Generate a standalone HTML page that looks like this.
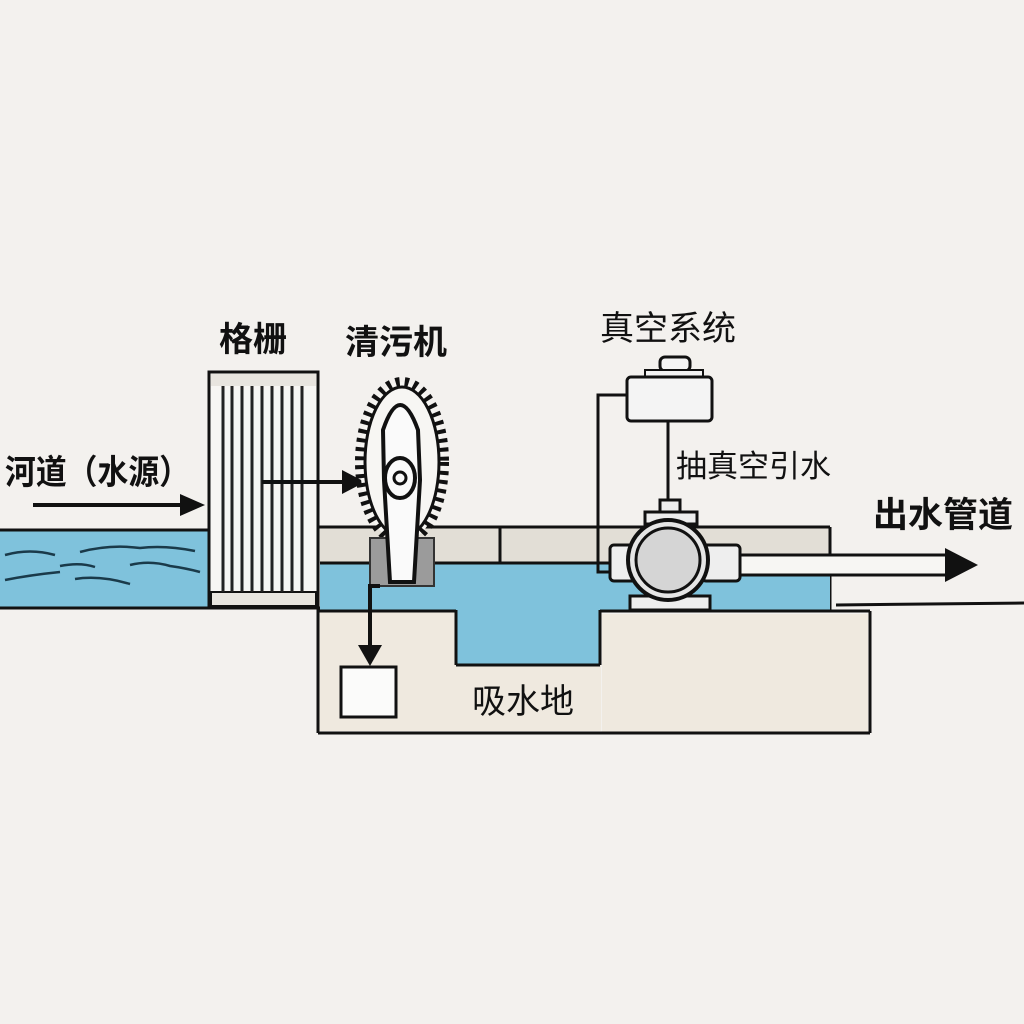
<!DOCTYPE html>
<html><head><meta charset="utf-8"><style>
html,body{margin:0;padding:0;background:#f3f1ee}
svg{display:block}
text{font-family:"Liberation Sans","Noto Sans CJK SC",sans-serif;fill:#111}
</style></head><body>
<svg width="1024" height="1024" viewBox="0 0 1024 1024" xmlns="http://www.w3.org/2000/svg">
<rect width="1024" height="1024" fill="#f3f1ee"/>
<!-- river -->
<rect x="0" y="530" width="210" height="78" fill="#7fc2dc"/>
<line x1="0" y1="530" x2="210" y2="530" stroke="#111" stroke-width="3"/>
<line x1="0" y1="608" x2="320" y2="608" stroke="#111" stroke-width="3"/>
<g stroke="#1a3a4a" stroke-width="2.5" fill="none">
<path d="M5 555 Q30 548 55 555"/><path d="M80 552 Q110 544 140 548 Q165 545 195 551"/>
<path d="M60 566 Q80 562 95 567"/><path d="M130 565 Q150 560 170 566 Q185 568 200 572"/>
<path d="M5 580 Q30 575 60 572"/><path d="M75 579 Q100 575 130 584"/>
</g>
<!-- pool beige band -->
<rect x="318" y="527" width="512" height="36" fill="#e2ded6"/>
<line x1="318" y1="527" x2="830" y2="527" stroke="#111" stroke-width="3"/>
<line x1="830" y1="527" x2="830" y2="610" stroke="#111" stroke-width="3"/>
<line x1="500" y1="527" x2="500" y2="575" stroke="#111" stroke-width="3"/>
<!-- water in pool -->
<rect x="320" y="563" width="510" height="47" fill="#7fc2dc"/>
<rect x="456" y="608" width="145" height="57" fill="#7fc2dc"/>
<line x1="320" y1="563" x2="830" y2="563" stroke="#111" stroke-width="3"/>
<!-- pool structure -->
<rect x="319" y="612" width="136" height="119" fill="#efe9df"/>
<rect x="455" y="665" width="146" height="66" fill="#efe9df"/>
<rect x="602" y="614" width="266" height="118" fill="#efe9df"/>
<line x1="456" y1="610" x2="456" y2="665" stroke="#111" stroke-width="3"/>
<line x1="600" y1="610" x2="600" y2="665" stroke="#111" stroke-width="3"/>
<line x1="456" y1="665" x2="600" y2="665" stroke="#111" stroke-width="3"/>
<line x1="318" y1="611" x2="456" y2="611" stroke="#111" stroke-width="3"/>
<line x1="600" y1="611" x2="870" y2="611" stroke="#111" stroke-width="3"/>
<line x1="318" y1="733" x2="870" y2="733" stroke="#111" stroke-width="3"/>
<line x1="318" y1="608" x2="318" y2="733" stroke="#111" stroke-width="3"/>
<line x1="870" y1="611" x2="870" y2="733" stroke="#111" stroke-width="3"/>
<line x1="836" y1="605" x2="1024" y2="603" stroke="#111" stroke-width="3"/>
<!-- grating -->
<rect x="209" y="372" width="109" height="235" fill="#f7f6f3" stroke="#111" stroke-width="3"/>
<rect x="211" y="374" width="105" height="12" fill="#e8e5df"/>
<rect x="211" y="592" width="105" height="14" fill="#e8e5df" stroke="#111" stroke-width="2"/>
<g stroke="#222" stroke-width="3">
<line x1="223" y1="386" x2="223" y2="592"/><line x1="232" y1="386" x2="232" y2="592"/>
<line x1="242" y1="386" x2="242" y2="592"/><line x1="252" y1="386" x2="252" y2="592"/>
<line x1="262" y1="386" x2="262" y2="592"/><line x1="272" y1="386" x2="272" y2="592"/>
<line x1="282" y1="386" x2="282" y2="592"/><line x1="292" y1="386" x2="292" y2="592"/>
<line x1="302" y1="386" x2="302" y2="592"/>
</g>
<!-- arrows -->
<line x1="33" y1="505" x2="185" y2="505" stroke="#111" stroke-width="4"/>
<polygon points="180,494 205,505 180,516" fill="#111"/>
<line x1="262" y1="482" x2="345" y2="482" stroke="#111" stroke-width="4"/>
<polygon points="342,470 365,482 342,494" fill="#111"/>
<!-- gear -->
<ellipse cx="402" cy="462" rx="42" ry="80" fill="#f7f6f3" stroke="#111" stroke-width="10" stroke-dasharray="4 5"/>
<ellipse cx="402" cy="462" rx="37" ry="75" fill="#f7f6f3" stroke="#111" stroke-width="3"/>
<rect x="370" y="538" width="64" height="48" fill="#9b9b9b" stroke="#333" stroke-width="2"/>
<path d="M383 430 Q400 380 418 430 L420 480 L414 582 L390 582 L384 480 Z" fill="#fafafa" stroke="#111" stroke-width="4"/>
<ellipse cx="400" cy="478" rx="15" ry="20" fill="#fafafa" stroke="#111" stroke-width="4"/>
<circle cx="400" cy="478" r="6" fill="#fafafa" stroke="#111" stroke-width="3"/>
<!-- debris path -->
<polyline points="380,586 370,586 370,650" fill="none" stroke="#111" stroke-width="4"/>
<polygon points="358,645 370,666 382,645" fill="#111"/>
<rect x="341" y="667" width="55" height="50" fill="#fbfbfa" stroke="#111" stroke-width="3"/>
<!-- vacuum -->
<polyline points="626,395 598,395 598,572 610,572" fill="none" stroke="#111" stroke-width="3"/>
<line x1="668" y1="420" x2="668" y2="505" stroke="#111" stroke-width="3"/>
<rect x="660" y="357" width="30" height="14" rx="5" fill="#f4f4f4" stroke="#111" stroke-width="3"/>
<rect x="645" y="370" width="58" height="9" fill="#f4f4f4" stroke="#111" stroke-width="2"/>
<rect x="627" y="377" width="85" height="44" rx="4" fill="#f4f4f4" stroke="#111" stroke-width="3"/>
<!-- pump -->
<rect x="740" y="555" width="210" height="20" fill="#f7f6f3" stroke="#111" stroke-width="3"/>
<polygon points="945,548 978,565 945,582" fill="#111"/>
<rect x="660" y="500" width="20" height="14" fill="#eee" stroke="#111" stroke-width="3"/>
<rect x="645" y="512" width="52" height="12" fill="#eee" stroke="#111" stroke-width="3"/>
<rect x="630" y="596" width="80" height="14" fill="#eee" stroke="#111" stroke-width="3"/>
<rect x="610" y="545" width="28" height="36" rx="4" fill="#eee" stroke="#111" stroke-width="3"/>
<rect x="702" y="545" width="38" height="36" rx="4" fill="#eee" stroke="#111" stroke-width="3"/>
<circle cx="668" cy="560" r="40" fill="#e6e6e6" stroke="#111" stroke-width="4"/>
<circle cx="668" cy="560" r="32" fill="#d5d5d5" stroke="#111" stroke-width="3"/>
<!-- labels -->
<text x="5" y="484" font-size="34" font-weight="bold" textLength="185" lengthAdjust="spacingAndGlyphs">河道（水源）</text>
<text x="219" y="351" font-size="34" font-weight="bold">格栅</text>
<text x="345" y="354" font-size="34" font-weight="bold">清污机</text>
<text x="600" y="340" font-size="34">真空系统</text>
<text x="676" y="477" font-size="31">抽真空引水</text>
<text x="873" y="527" font-size="35" font-weight="bold">出水管道</text>
<text x="472" y="713" font-size="34">吸水地</text>
</svg>
</body></html>
